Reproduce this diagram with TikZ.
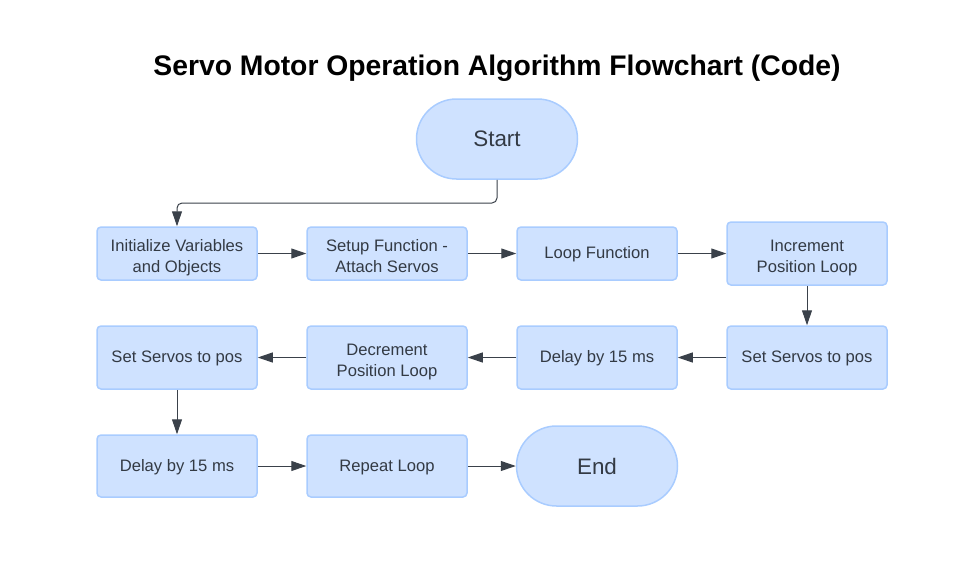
\documentclass[tikz,border=0pt]{standalone}
\usepackage{fontspec}
\setmainfont{Liberation Sans}
\usetikzlibrary{arrows.meta,shapes.misc}
\definecolor{boxfill}{HTML}{CFE2FF}
\definecolor{boxline}{HTML}{A9CCFF}
\definecolor{txt}{HTML}{333A44}
\definecolor{arr}{HTML}{3A414A}
\tikzset{
  proc/.style={draw=boxline, fill=boxfill, line width=1.5pt, rounded corners=4pt,
    minimum width=160pt, minimum height=53pt, inner sep=0pt, align=center,
    text=txt, font=\fontsize{16.6}{21}\selectfont,
    text height=14.5pt, text depth=4pt},
  twoline/.style={text height=42pt},
  term/.style={draw=boxline, fill=boxfill, line width=1.5pt, rounded rectangle,
    minimum width=161pt, minimum height=80pt, inner sep=0pt,
    text=txt, font=\fontsize{22.4}{26}\selectfont},
  conn/.style={draw=arr, line width=1pt, -{Triangle[length=15pt,width=10pt]}}
}
\begin{document}
\begin{tikzpicture}[x=1pt,y=-1pt]
\useasboundingbox (0,0) rectangle (977,571);
\node[font=\bfseries\fontsize{28.3}{32}\selectfont] (title) at (497,68) {Servo Motor Operation Algorithm Flowchart (Code)};
\node[term] (start) at (497,139) {Start};
\node[proc, twoline] (init) at (177,253.5) {Initialize Variables\\and Objects};
\node[proc, twoline] (setup) at (387,253.5) {Setup Function -\\Attach Servos};
\node[proc] (loop) at (597,253.5) {Loop Function};
\node[proc, twoline, minimum height=63pt] (inc) at (807,253.5) {Increment\\Position Loop};
\node[proc, minimum height=63pt] (set1) at (807,357.5) {Set Servos to pos};
\node[proc, minimum height=63pt] (delay1) at (597,357.5) {Delay by 15 ms};
\node[proc, twoline, minimum height=63pt] (dec) at (387,357.5) {Decrement\\Position Loop};
\node[proc, minimum height=63pt] (set2) at (177,357.5) {Set Servos to pos};
\node[proc, minimum height=62pt] (delay2) at (177,466) {Delay by 15 ms};
\node[proc, minimum height=62pt] (rep) at (387,466) {Repeat Loop};
\node[term] (end) at (597,466) {End};
\coordinate (c1) at (497,203);
\coordinate (c2) at (177,203);
\draw[conn, rounded corners=5pt] (start.south) -- (c1) -- (c2) -- (init.north);
\draw[conn] (init) -- (setup);
\draw[conn] (setup) -- (loop);
\draw[conn] (loop) -- (inc);
\draw[conn] (inc) -- (set1);
\draw[conn] (set1) -- (delay1);
\draw[conn] (delay1) -- (dec);
\draw[conn] (dec) -- (set2);
\draw[conn] (set2) -- (delay2);
\draw[conn] (delay2) -- (rep);
\draw[conn] (rep) -- (end);
\end{tikzpicture}
\end{document}
